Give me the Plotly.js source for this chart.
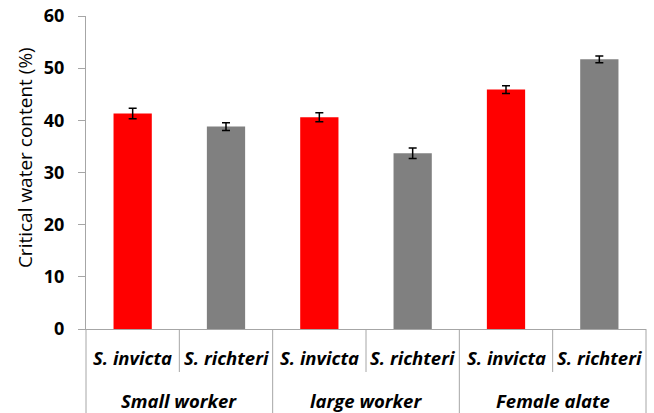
<!DOCTYPE html>
<html>
<head>
<meta charset="utf-8">
<script src="https://cdn.plot.ly/plotly-3.0.1.min.js"></script>
<style>
  html, body { margin: 0; padding: 0; background: #fff; }
  #chart { width: 654px; height: 413px; }
</style>
</head>
<body>
<div id="chart"></div>
<script>
// Caste groups (outer axis level) and species (inner axis level)
const groups  = ["Small worker", "Small worker", "large worker", "large worker", "Female alate", "Female alate"];
const species = ["S. invicta", "S. richteri", "S. invicta", "S. richteri", "S. invicta", "S. richteri"];

// Critical water content (%) and its standard error
const waterContent = [41.3, 38.8, 40.6, 33.7, 45.9, 51.7];
const stdError     = [1.0, 0.75, 0.85, 1.0, 0.75, 0.65];

// Y-axis ticks and title
const yTicks = [0, 10, 20, 30, 40, 50, 60];
const yTitle = "Critical water content (%)";

// Bar colour per species
const speciesColor = { "S. invicta": "#ff0000", "S. richteri": "#808080" };

const W = 654, H = 413;
const M = { l: 86, r: 8, t: 16, b: 84 };
const plotW = W - M.l - M.r;
const plotH = H - M.t - M.b;
const axisGray = "#a6a6a6";
const fontFamily = "'Open Sans', sans-serif";
const labelFont = { family: fontFamily, size: 18.5, weight: "bold", style: "italic", color: "#000" };

const n = species.length;
// paper-x of a category centre / boundary (category axis spans -0.5 .. n-0.5)
const catX = i => (i + 0.5) / n;
const bndX = i => i / n;
// pixel offsets outside the plot area expressed in paper units
const below = px => -px / plotH;
const leftOf = px => -px / plotW;

const trace = {
  type: "bar",
  x: [groups, species],
  y: waterContent,
  marker: { color: species.map(s => speciesColor[s]) },
  width: 0.41,
  error_y: {
    type: "data",
    array: stdError,
    visible: true,
    color: "#000",
    thickness: 1.5,
    width: 4
  },
  hoverinfo: "x+y"
};

// Species labels (inner level) and caste labels (outer level)
const annotations = [];
species.forEach((s, i) => {
  annotations.push({
    xref: "paper", yref: "paper", x: catX(i), y: below(28),
    xanchor: "center", yanchor: "middle", text: s, showarrow: false, font: labelFont
  });
});
const groupNames = groups.filter((g, i) => groups.indexOf(g) === i);
groupNames.forEach(g => {
  const first = groups.indexOf(g), last = groups.lastIndexOf(g);
  annotations.push({
    xref: "paper", yref: "paper", x: (catX(first) + catX(last)) / 2, y: below(72),
    xanchor: "center", yanchor: "middle", text: g, showarrow: false, font: labelFont
  });
});

// Rotated y-axis title, sitting a little above the plot's middle
annotations.push({
  xref: "paper", yref: "paper", x: leftOf(61), y: 0.546,
  xanchor: "center", yanchor: "middle", textangle: -90,
  text: yTitle, showarrow: false,
  font: { family: fontFamily, size: 19, color: "#000" }
});

// Separator lines: short ones between species, long ones between castes
const shapes = [];
for (let i = 0; i <= n; i++) {
  const isGroupEdge = i === 0 || i === n || groups[i] !== groups[i - 1];
  shapes.push({
    type: "line", xref: "paper", yref: "paper",
    x0: bndX(i), x1: bndX(i), y0: 0, y1: below(isGroupEdge ? M.b : 43),
    line: { color: axisGray, width: 1 }
  });
}

const layout = {
  width: W,
  height: H,
  margin: M,
  paper_bgcolor: "#fff",
  plot_bgcolor: "#fff",
  showlegend: false,
  font: { family: fontFamily, color: "#000" },
  annotations: annotations,
  shapes: shapes,
  xaxis: {
    type: "multicategory",
    showline: true,
    linecolor: axisGray,
    linewidth: 1,
    ticks: "",
    showticklabels: false,
    showdividers: false,
    showgrid: false,
    zeroline: false
  },
  yaxis: {
    range: [0, 60],
    tickvals: yTicks,
    showline: true,
    linecolor: axisGray,
    linewidth: 1,
    ticks: "outside",
    ticklen: 7,
    tickcolor: axisGray,
    showgrid: false,
    zeroline: false,
    ticklabelstandoff: 10,
    tickfont: { family: fontFamily, size: 18, weight: "bold", color: "#000" }
  }
};

Plotly.newPlot("chart", [trace], layout, { displayModeBar: false, staticPlot: true });
</script>
</body>
</html>
